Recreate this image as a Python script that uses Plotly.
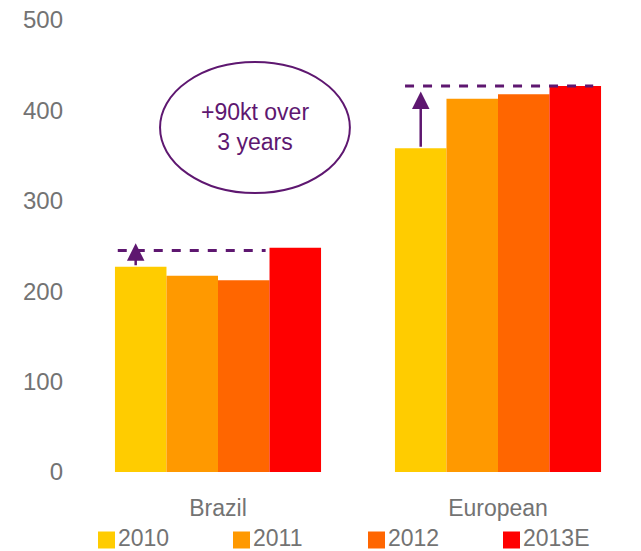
import plotly.graph_objects as go

regions = ["Brazil", "European"]
years = ["2010", "2011", "2012", "2013E"]
values = {
    "2010": [227, 358],
    "2011": [217, 413],
    "2012": [212, 418],
    "2013E": [248, 427],
}
colors = ["#FFCC00", "#FF9900", "#FF6600", "#FF0000"]
y_ticks = [0, 100, 200, 300, 400, 500]

# annotation values: growth reference lines and arrows
dash_levels = [245, 427]
arrow_tips = [253, 421]
note_text = "+90kt over<br>3 years"

purple = "#5E1770"
gray = "#737373"
font = "Liberation Sans, Arial, sans-serif"

W, H = 641, 551
ML, MR, MT, MB = 78, 3, 20, 79
PW, PH = W - ML - MR, H - MT - MB


def px_to_paper(px, py):
    return (px - ML) / PW, (H - MB - py) / PH


fig = go.Figure()
for yr, col in zip(years, colors):
    fig.add_trace(go.Bar(x=regions, y=values[yr], name=yr, marker_color=col,
                         marker_line_width=0, showlegend=False))

bargap = 0.264
group = 1 - bargap
barw = group / len(years)

shapes = []
annotations = []
for i, r in enumerate(regions):
    left = i - group / 2
    x0 = left + 0.01 if i == 0 else left + 0.036
    x1 = i + 0.17 if i == 0 else i + 0.34
    shapes.append(dict(type="line", xref="x", yref="y", x0=x0, x1=x1,
                       y0=dash_levels[i], y1=dash_levels[i],
                       line=dict(color=purple, width=3, dash="dash")))
    ax = left + barw / 2 - (0.018 if i == 0 else 0)
    annotations.append(dict(x=ax, y=arrow_tips[i], ax=ax, ay=values["2010"][i],
                            xref="x", yref="y", axref="x", ayref="y",
                            showarrow=True, arrowhead=2, arrowsize=1.4,
                            arrowwidth=2.5, arrowcolor=purple, text=""))

shapes.append(dict(type="circle", xref="x", yref="y", x0=-0.207, x1=0.471,
                   y0=308.6, y1=453.5, line=dict(color=purple, width=2)))
annotations.append(dict(x=0.132, y=381.6, xref="x", yref="y", text=note_text,
                        showarrow=False, font=dict(color=purple, size=23, family=font)))

# custom legend (squares + labels) below the category labels
leg_start, leg_step, sq, leg_y = 98, 135, 17, 540
for k, (yr, col) in enumerate(zip(years, colors)):
    sx = leg_start + k * leg_step
    x0p, y0p = px_to_paper(sx, leg_y + sq / 2)
    x1p, y1p = px_to_paper(sx + sq, leg_y - sq / 2)
    shapes.append(dict(type="rect", xref="paper", yref="paper", x0=x0p, x1=x1p,
                       y0=y0p, y1=y1p, fillcolor=col, line=dict(width=0)))
    tx, ty = px_to_paper(sx + sq + 2, leg_y - 2)
    annotations.append(dict(x=tx, y=ty, xref="paper", yref="paper", text=yr,
                            xanchor="left", yanchor="middle", showarrow=False,
                            borderpad=0,
                            font=dict(size=23, color=gray, family=font)))

fig.update_layout(
    width=W, height=H,
    margin=dict(l=ML, r=MR, t=MT, b=MB),
    plot_bgcolor="white", paper_bgcolor="white",
    barmode="group", bargap=bargap, bargroupgap=0,
    font=dict(family=font, color=gray, size=24),
    shapes=shapes, annotations=annotations,
    showlegend=False,
)
fig.update_xaxes(showgrid=False, showline=False, zeroline=False, ticks="",
                 tickfont=dict(size=23, color=gray), ticklabelstandoff=20)
fig.update_yaxes(range=[0, 500], tickvals=y_ticks, showgrid=False, showline=False,
                 zeroline=False, ticks="", tickfont=dict(size=24, color=gray),
                 ticklabelstandoff=14)

fig.write_html("out.html")
